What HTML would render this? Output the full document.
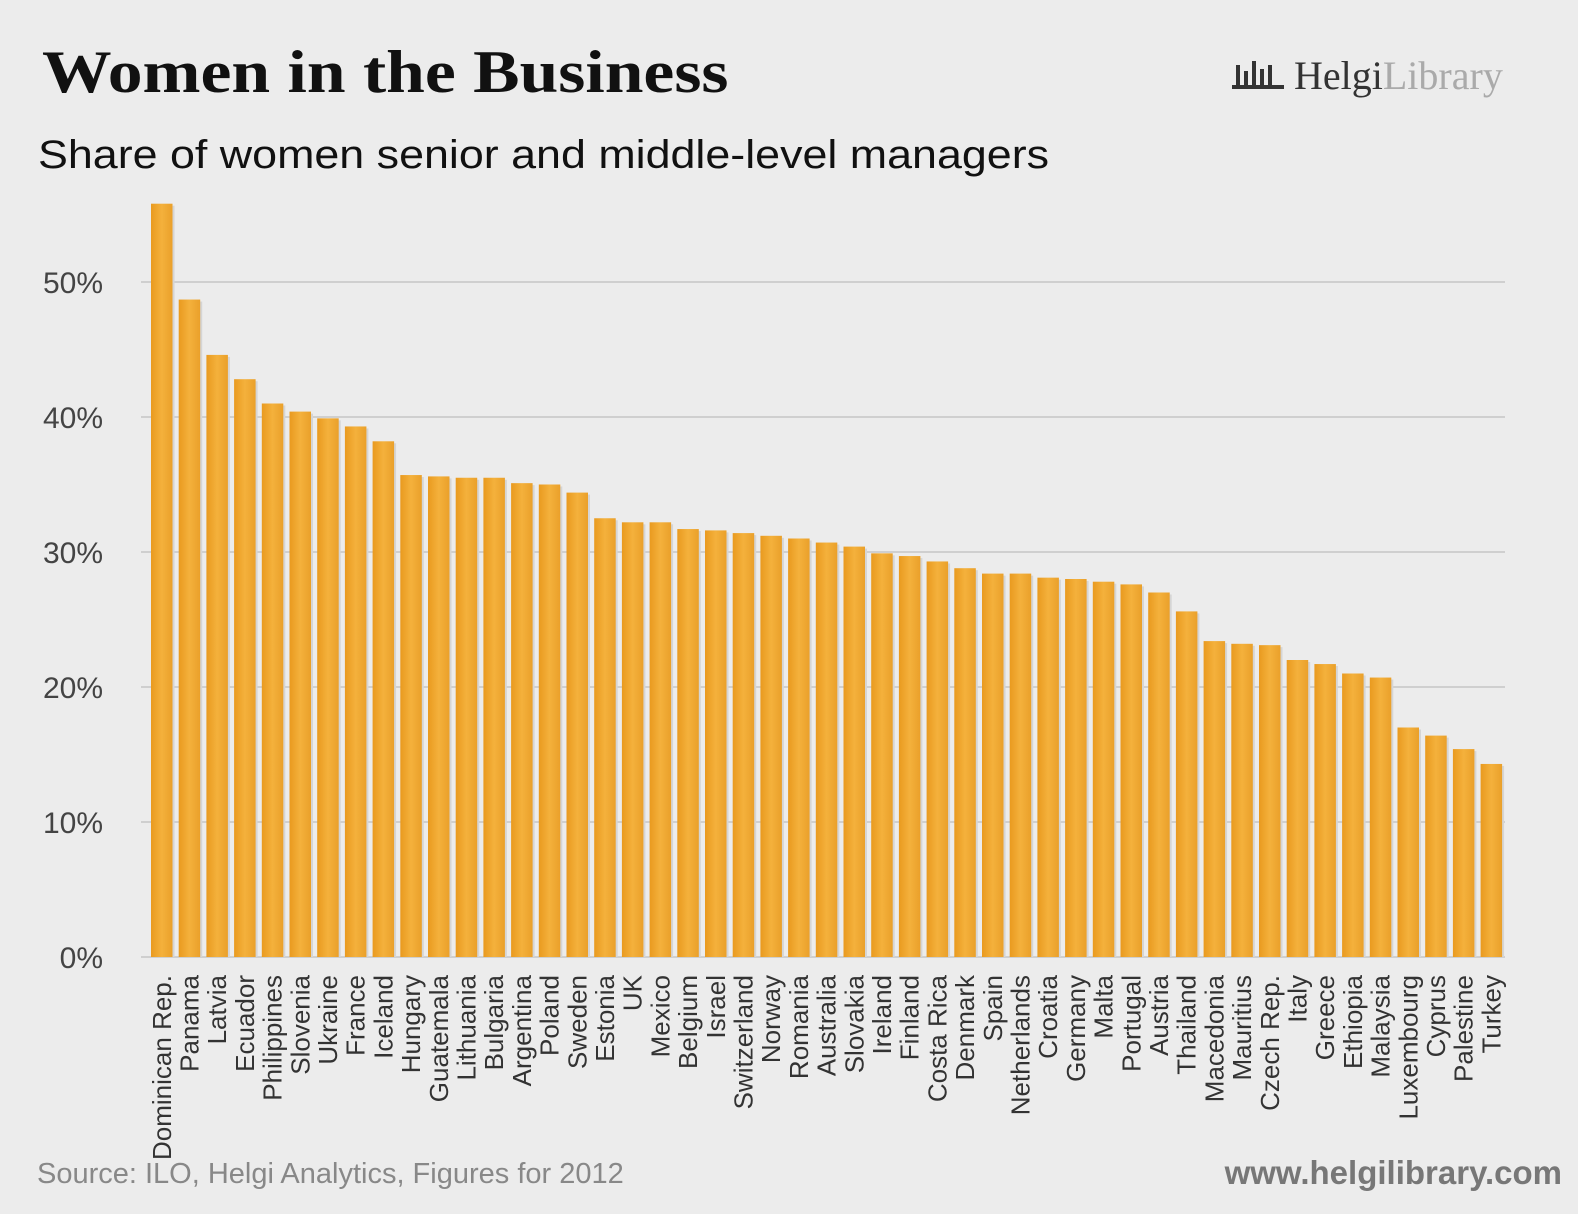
<!DOCTYPE html>
<html><head><meta charset="utf-8"><style>
html,body{margin:0;padding:0;background:#ececec;}
body{width:1578px;height:1214px;position:relative;overflow:hidden;font-family:"Liberation Sans",sans-serif;}
.title{position:absolute;left:42px;top:38px;font-family:"Liberation Serif",serif;font-weight:bold;font-size:60px;color:#111;transform-origin:0 0;transform:scaleX(1.16);white-space:nowrap;}
.sub{position:absolute;left:38px;top:133px;font-size:40px;color:#111;transform-origin:0 0;transform:scaleX(1.12);white-space:nowrap;}
.src{position:absolute;left:37px;top:1158px;font-size:29px;color:#888;}
.web{position:absolute;right:16px;top:1154px;font-size:33px;font-weight:bold;color:#777;}
.logo{position:absolute;left:1232px;top:52px;font-size:40px;color:#333;font-family:"Liberation Serif",serif;}
.logo span{color:#aaa;}
</style></head><body>
<div class="title">Women in the Business</div>
<div class="sub">Share of women senior and middle-level managers</div>
<div class="logo"><svg width="62" height="40" style="vertical-align:-6px"><g fill="#333"><rect x="4" y="10" width="4" height="22"/><rect x="12" y="16" width="4" height="16"/><rect x="20" y="6" width="4" height="26"/><rect x="28" y="14" width="4" height="18"/><rect x="36" y="10" width="4" height="22"/><rect x="0" y="30" width="52" height="4"/></g></svg>Helgi<span>Library</span></div>
<svg id="chart" width="1578" height="1214" style="position:absolute;left:0;top:0">
<defs><linearGradient id="g" x1="0" x2="1"><stop offset="0" stop-color="#e99a1f"/><stop offset="0.5" stop-color="#f4b13c"/><stop offset="1" stop-color="#eaa02a"/></linearGradient></defs>
</svg>
<div class="src">Source: ILO, Helgi Analytics, Figures for 2012</div>
<div class="web">www.helgilibrary.com</div>
<script>
const categories=["Dominican Rep.","Panama","Latvia","Ecuador","Philippines","Slovenia","Ukraine","France","Iceland","Hungary","Guatemala","Lithuania","Bulgaria","Argentina","Poland","Sweden","Estonia","UK","Mexico","Belgium","Israel","Switzerland","Norway","Romania","Australia","Slovakia","Ireland","Finland","Costa Rica","Denmark","Spain","Netherlands","Croatia","Germany","Malta","Portugal","Austria","Thailand","Macedonia","Mauritius","Czech Rep.","Italy","Greece","Ethiopia","Malaysia","Luxembourg","Cyprus","Palestine","Turkey"];
const values=[55.8,48.7,44.6,42.8,41.0,40.4,39.9,39.3,38.2,35.7,35.6,35.5,35.5,35.1,35.0,34.4,32.5,32.2,32.2,31.7,31.6,31.4,31.2,31.0,30.7,30.4,29.9,29.7,29.3,28.8,28.4,28.4,28.1,28.0,27.8,27.6,27.0,25.6,23.4,23.2,23.1,22.0,21.7,21.0,20.7,17.0,16.4,15.4,14.3];
const ticks=[0,10,20,30,40,50];
const tickLabels=["0%","10%","20%","30%","40%","50%"];
const svg=document.getElementById('chart');
const NS="http://www.w3.org/2000/svg";
const y0=957,pxPer=13.5,x0=151,pitch=27.7,bw=21.5;
const yS=v=>y0-v*pxPer;
const xS=i=>x0+i*pitch;
ticks.forEach((t,i)=>{
 const l=document.createElementNS(NS,'line');
 
 
 l.setAttribute('x1',141);l.setAttribute('x2',1505);l.setAttribute('y1',yS(t));l.setAttribute('y2',yS(t));
 l.setAttribute('stroke','#cfcfcf');l.setAttribute('stroke-width',2);svg.appendChild(l);
 const tx=document.createElementNS(NS,'text');
 
 
 tx.setAttribute('x',103);tx.setAttribute('y',yS(t)+11);tx.setAttribute('text-anchor','end');
 tx.setAttribute('font-size','30');tx.setAttribute('fill','#444');tx.setAttribute('font-family','Liberation Sans, sans-serif');
 tx.textContent=tickLabels[i];svg.appendChild(tx);
});
values.forEach((v,i)=>{
 const sh=document.createElementNS(NS,'rect');
 
 
 sh.setAttribute('x',xS(i)+2);sh.setAttribute('y',yS(v)+2);sh.setAttribute('width',bw);sh.setAttribute('height',v*pxPer-2);sh.setAttribute('fill','#d5d5d5');svg.appendChild(sh);
 const r=document.createElementNS(NS,'rect');
 
 
 r.setAttribute('x',xS(i));r.setAttribute('y',yS(v));r.setAttribute('width',bw);r.setAttribute('height',v*pxPer);r.setAttribute('fill','url(#g)');svg.appendChild(r);
 const t=document.createElementNS(NS,'text');
 
 
 const cx=xS(i)+bw/2+9,cy=975;
 t.setAttribute('x',cx);t.setAttribute('y',cy);t.setAttribute('text-anchor','end');
 t.setAttribute('transform','rotate(-90 '+cx+' '+cy+')');
 t.setAttribute('font-size','26');t.setAttribute('fill','#333');t.setAttribute('font-family','Liberation Sans, sans-serif');
 t.textContent=categories[i];svg.appendChild(t);
});
</script>
</body></html>
